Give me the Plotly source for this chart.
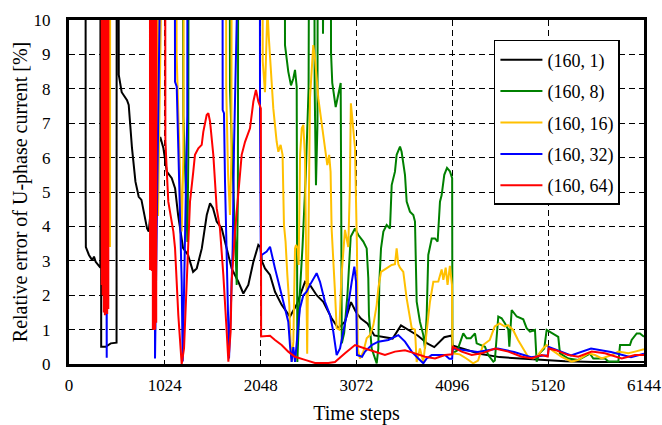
import plotly.graph_objects as go

# ---- data (time step, relative error %); values above 10 are off-chart ----
black_x = [0, 175, 178, 180, 213, 248, 267, 285, 335, 340, 344, 392, 446, 481, 508, 513, 528, 532, 563, 620, 638, 673, 710, 745, 774, 799, 834, 852, 880, 930, 975, 1009, 1045, 1098, 1134, 1166, 1219, 1272, 1326, 1365, 1419, 1472, 1507, 1539, 1578, 1632, 1685, 1738, 1809, 1863, 1916, 1970, 2023, 2045, 2060, 2094, 2148, 2201, 2272, 2361, 2432, 2522, 2575, 2646, 2717, 2806, 2877, 2948, 3013, 3066, 3119, 3191, 3262, 3369, 3458, 3547, 3618, 3725, 3832, 3903, 4010, 4090, 4097, 4239, 4386, 4600, 4940, 5120, 5300, 5600, 6144]
black_y = [40, 40, 4.8, 3.4, 3.17, 3.02, 3.12, 2.97, 2.8, 40, 0.5, 0.5, 0.6, 0.6, 0.62, 40, 40, 8.4, 7.9, 7.67, 7.53, 6.28, 5.3, 4.86, 4.77, 4.43, 3.94, 3.85, 4.6, 6.1, 6.6, 6.27, 5.59, 5.4, 5.1, 4.33, 3.37, 3.17, 2.68, 2.78, 3.36, 4.33, 4.67, 4.53, 4.14, 3.94, 3.36, 2.78, 2.39, 2.05, 2.3, 2.97, 3.46, 3.4, 3.0, 2.78, 2.59, 2.1, 1.72, 1.38, 1.72, 2.39, 2.3, 2.0, 1.81, 1.33, 1.04, 1.23, 1.8, 1.51, 1.32, 1.17, 0.83, 0.77, 0.74, 1.12, 1.0, 0.83, 0.59, 0.49, 0.78, 0.83, 0.54, 0.42, 0.3, 0.2, 0.15, 0.12, 0.08, 0.06, 0.06]

green_x = [0, 1186, 1222, 1240, 1257, 1265, 1275, 1285, 1699, 1720, 1750, 1775, 1792, 1805, 1818, 2290, 2308, 2343, 2372, 2397, 2415, 2433, 2440, 2465, 2495, 2530, 2560, 2597, 2610, 2625, 2639, 2655, 2671, 2690, 2714, 2735, 2780, 2800, 2813, 2850, 2886, 2903, 2915, 2940, 2975, 3010, 3056, 3092, 3145, 3181, 3198, 3205, 3234, 3270, 3288, 3305, 3316, 3334, 3359, 3394, 3430, 3448, 3483, 3501, 3537, 3554, 3590, 3608, 3643, 3679, 3697, 3715, 3750, 3786, 3804, 3822, 3839, 3876, 3911, 3939, 3964, 3982, 4010, 4039, 4070, 4094, 4097, 4150, 4213, 4249, 4292, 4338, 4356, 4445, 4480, 4534, 4550, 4587, 4623, 4659, 4694, 4705, 4730, 4784, 4854, 4890, 4926, 4979, 4997, 5025, 5078, 5104, 5228, 5246, 5335, 5442, 5567, 5602, 5727, 5763, 5870, 5888, 5994, 6012, 6066, 6101, 6144]
green_y = [40, 40, 7.2, 5.3, 4.3, 3.55, 6.0, 40, 40, 8.0, 5.5, 3.5, 2.3, 5.0, 40, 40, 9.27, 8.5, 8.1, 8.3, 8.55, 8.06, 0.06, 2.0, 3.4, 5.5, 8.0, 40, 40, 8.0, 5.2, 7.0, 40, 40, 9.6, 40, 40, 9.04, 8.17, 7.47, 7.97, 8.17, 0.6, 0.9, 2.0, 3.7, 3.94, 3.75, 3.56, 3.36, 2.5, 1.42, 0.45, 0.16, 0.02, 0.45, 2.39, 3.36, 3.85, 4.04, 3.94, 5.2, 5.59, 6.08, 6.32, 6.17, 5.5, 4.72, 4.43, 4.33, 4.14, 1.81, 1.23, 0.84, 0.45, 1.42, 3.17, 3.65, 3.65, 3.56, 4.72, 4.91, 5.5, 5.7, 5.6, 5.4, 0.31, 0.4, 0.89, 0.75, 0.75, 0.89, 0.6, 0.5, 0.26, 0.07, 0.1, 1.38, 1.33, 1.18, 1.0, 0.5, 1.57, 1.38, 1.3, 1.04, 0.94, 0.99, 0.07, 0.3, 0.45, 0.99, 0.79, 0.31, 0.16, 0.12, 0.3, 0.16, 0.16, 0.07, 0.07, 0.55, 0.55, 0.7, 0.89, 0.89, 0.79]

yellow_x = [0, 432, 438, 444, 945, 951, 957, 1140, 1150, 1175, 1204, 1222, 1240, 1667, 1680, 1700, 1720, 1735, 1752, 2052, 2070, 2094, 2110, 2120, 2135, 2165, 2183, 2219, 2237, 2261, 2282, 2297, 2314, 2333, 2354, 2368, 2379, 2397, 2415, 2426, 2443, 2454, 2469, 2487, 2504, 2522, 2533, 2545, 2560, 2575, 2610, 2628, 2664, 2699, 2735, 2760, 2780, 2795, 2806, 2824, 2842, 2860, 2889, 2910, 2949, 2984, 3000, 3012, 3030, 3056, 3067, 3077, 3085, 3109, 3145, 3181, 3216, 3252, 3288, 3305, 3334, 3394, 3448, 3483, 3501, 3519, 3537, 3572, 3608, 3662, 3697, 3715, 3750, 3786, 3822, 3857, 3893, 3946, 3982, 4000, 4025, 4045, 4070, 4085, 4092, 4097, 4175, 4246, 4318, 4371, 4424, 4496, 4549, 4602, 4656, 4691, 4745, 4798, 4852, 4905, 4958, 5012, 5065, 5104, 5158, 5264, 5371, 5442, 5549, 5620, 5692, 5799, 5870, 5976, 6048, 6144]
yellow_y = [40, 40, 3.4, 40, 40, 4.3, 40, 40, 9.0, 6.5, 3.85, 6.0, 40, 40, 8.0, 5.5, 4.33, 6.0, 40, 40, 8.8, 7.9, 9.5, 10.3, 9.5, 8.2, 7.43, 6.46, 6.17, 6.37, 6.08, 4.04, 3.56, 2.59, 1.72, 0.55, 0.06, 0.65, 3.36, 3.46, 3.36, 2.88, 6.08, 6.85, 6.95, 5.98, 3.85, 0.3, 4.0, 7.73, 9.27, 8.9, 7.72, 6.95, 6.27, 5.78, 6.08, 5.59, 3.94, 3.17, 2.1, 1.04, 1.0, 2.5, 3.9, 3.4, 5.0, 7.58, 6.95, 6.28, 4.72, 3.37, 0.45, 0.16, 0.36, 0.75, 0.84, 1.13, 1.72, 2.2, 2.68, 2.78, 2.88, 2.9, 3.36, 2.9, 2.8, 2.68, 1.91, 1.04, 1.0, 0.06, 0.45, 0.06, 1.0, 1.81, 2.39, 2.4, 2.75, 2.45, 2.8, 2.3, 2.85, 2.35, 2.3, 0.31, 0.28, 0.16, 0.02, 0.1, 0.55, 0.7, 1.09, 1.18, 1.09, 1.13, 0.99, 0.7, 0.45, 0.21, 0.16, 0.26, 0.45, 0.55, 0.41, 0.21, 0.07, 0.12, 0.31, 0.26, 0.16, 0.26, 0.36, 0.31, 0.36, 0.43]

blue_x = [0, 390, 397, 403, 410, 912, 919, 926, 1114, 1133, 1151, 1168, 1186, 1204, 1215, 1229, 1250, 1264, 1275, 1632, 1642, 1656, 1667, 1685, 1702, 1710, 1727, 1749, 1763, 1784, 2030, 2041, 2050, 2059, 2112, 2148, 2166, 2201, 2237, 2273, 2308, 2343, 2361, 2379, 2397, 2415, 2444, 2468, 2504, 2539, 2575, 2610, 2646, 2682, 2735, 2789, 2824, 2860, 2896, 2931, 2967, 3021, 3049, 3067, 3077, 3131, 3163, 3234, 3305, 3412, 3519, 3590, 3662, 3732, 3786, 3822, 3876, 4018, 4064, 4094, 4100, 4367, 4581, 4755, 4937, 5075, 5118, 5125, 5364, 5578, 5791, 6005, 6144]
blue_y = [40, 40, 7.6, 0.18, 40, 40, 0.16, 40, 40, 8.2, 8.06, 6.27, 4.33, 2.39, 0.07, 2.39, 5.3, 7.24, 40, 40, 7.38, 7.29, 5.3, 3.36, 1.42, 0.16, 1.42, 3.36, 6.28, 40, 40, 7.4, 3.0, 3.17, 3.27, 3.41, 3.17, 2.78, 2.39, 2.0, 1.62, 1.23, 0.55, 0.06, 0.49, 0.06, 0.94, 1.62, 2.0, 2.1, 2.3, 2.49, 2.64, 2.39, 1.81, 1.42, 0.94, 0.26, 0.45, 0.94, 1.42, 2.39, 2.83, 2.39, 0.26, 0.21, 0.36, 0.55, 0.65, 0.7, 0.84, 0.65, 0.36, 0.16, 0.02, 0.16, 0.26, 0.26, 0.15, 0.15, 0.45, 0.35, 0.45, 0.35, 0.2, 0.25, 0.25, 0.5, 0.25, 0.45, 0.35, 0.2, 0.3]

red_x = [0, 345, 350, 355, 360, 366, 372, 378, 384, 390, 396, 402, 408, 414, 420, 425, 862, 866, 870, 875, 880, 885, 890, 896, 902, 908, 914, 920, 926, 932, 938, 1020, 1030, 1045, 1061, 1115, 1133, 1168, 1193, 1204, 1229, 1257, 1293, 1328, 1346, 1382, 1418, 1435, 1471, 1489, 1507, 1542, 1578, 1613, 1631, 1649, 1685, 1703, 1727, 1738, 1774, 1827, 1845, 1881, 1934, 1970, 1998, 2023, 2050, 2053, 2094, 2148, 2201, 2272, 2343, 2415, 2522, 2628, 2771, 2842, 2949, 3056, 3163, 3270, 3376, 3483, 3590, 3697, 3804, 3911, 4018, 4094, 4100, 4196, 4303, 4410, 4552, 4694, 4837, 4944, 5051, 5115, 5125, 5193, 5335, 5442, 5585, 5727, 5906, 6048, 6144]
red_y = [40, 40, 2.3, 40, 2.0, 40, 1.5, 40, 1.42, 40, 1.5, 40, 1.45, 40, 1.6, 40, 40, 2.73, 40, 2.8, 40, 2.7, 40, 1.0, 40, 0.99, 40, 1.0, 40, 1.2, 40, 40, 6.5, 5.6, 4.72, 3.85, 3.37, 1.42, 0.45, 0.0, 0.45, 2.39, 4.72, 5.59, 6.08, 6.27, 6.37, 6.75, 7.24, 7.29, 7.05, 6.08, 4.53, 3.94, 3.37, 2.59, 0.94, 0.07, 0.94, 2.39, 3.85, 5.59, 6.08, 6.46, 6.85, 7.63, 7.97, 7.63, 7.43, 0.8, 0.8, 0.82, 0.7, 0.55, 0.36, 0.21, 0.12, 0.03, 0.03, 0.06, 0.31, 0.55, 0.45, 0.36, 0.26, 0.36, 0.4, 0.31, 0.21, 0.16, 0.26, 0.28, 0.5, 0.36, 0.26, 0.31, 0.45, 0.36, 0.21, 0.17, 0.26, 0.22, 0.45, 0.41, 0.26, 0.21, 0.36, 0.31, 0.16, 0.26, 0.26]

series_names = ["(160, 1)", "(160, 8)", "(160, 16)", "(160, 32)", "(160, 64)"]
series_x = [black_x, green_x, yellow_x, blue_x, red_x]
series_y = [black_y, green_y, yellow_y, blue_y, red_y]
colors = ["#000000", "#008000", "#FFC000", "#0000FF", "#FF0000"]

x_ticks = [0, 1024, 2048, 3072, 4096, 5120, 6144]
y_ticks = list(range(0, 11))

FONT = "Liberation Serif"

fig = go.Figure()
for i, (name, xs, ys, c) in enumerate(zip(series_names, series_x, series_y, colors)):
    fig.add_trace(go.Scatter(x=xs, y=ys, mode="lines", name=name,
                             line=dict(color=c, width=2), legendgroup=f"g{i}"))

fig.update_layout(
    width=662, height=425,
    margin=dict(l=69, r=18, t=20, b=61),
    paper_bgcolor="white", plot_bgcolor="white",
    font=dict(family=FONT, color="black", size=17),
    showlegend=True,
    legend=dict(x=0.739, y=0.9419, xanchor="left", yanchor="top",
                bgcolor="white", bordercolor="black", borderwidth=1.5,
                font=dict(family=FONT, size=18, color="black"),
                itemwidth=42,
                traceorder="grouped", tracegroupgap=5),
    xaxis=dict(range=[0, 6144], tickvals=x_ticks, ticktext=[str(v) for v in x_ticks],
               showgrid=True, gridcolor="black", gridwidth=1.3, griddash="6px,4px",
               showline=True, linecolor="black", linewidth=3, mirror=True,
               zeroline=False, ticks="", ticklabelstandoff=4, automargin=False,
               tickfont=dict(family=FONT, size=17),
               title=dict(text="Time steps", font=dict(family=FONT, size=20), standoff=19)),
    yaxis=dict(range=[0, 10], tickvals=y_ticks,
               showgrid=True, gridcolor="black", gridwidth=1.3, griddash="6px,4px",
               showline=True, linecolor="black", linewidth=3, mirror=True,
               zeroline=False, ticks="", ticklabelstandoff=12, automargin=False,
               tickfont=dict(family=FONT, size=17),
               title=dict(text="Relative error of U-phase current [%]",
                          font=dict(family=FONT, size=20), standoff=1)),
)

fig.write_html("out.html", config={"displayModeBar": False},
               post_script="document.body.style.margin='0px';document.body.style.overflow='hidden';")
